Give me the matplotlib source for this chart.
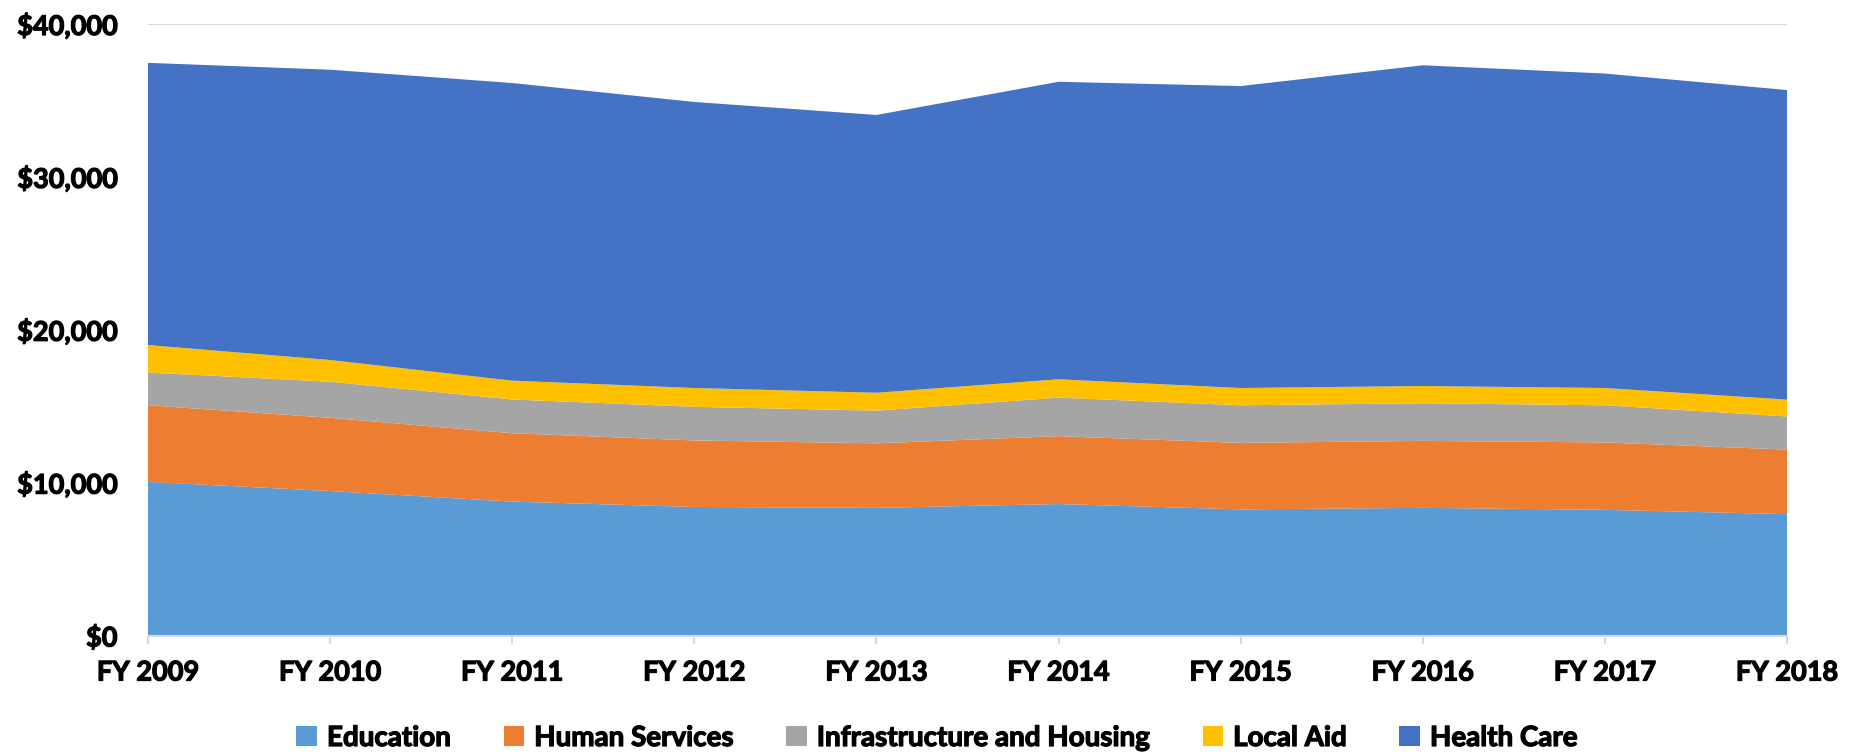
import matplotlib
matplotlib.use("Agg")
import matplotlib.pyplot as plt
import matplotlib.patheffects as pe
from matplotlib.ticker import FuncFormatter

years = ["FY 2009", "FY 2010", "FY 2011", "FY 2012", "FY 2013",
         "FY 2014", "FY 2015", "FY 2016", "FY 2017", "FY 2018"]
education = [10050, 9450, 8760, 8410, 8350, 8600, 8250, 8350, 8220, 7940]
human_services = [5010, 4790, 4470, 4350, 4220, 4440, 4350, 4380, 4410, 4220]
infrastructure = [2140, 2360, 2210, 2200, 2140, 2520, 2460, 2460, 2430, 2170]
local_aid = [1800, 1420, 1230, 1230, 1170, 1200, 1130, 1130, 1130, 1100]
health_care = [18460, 18990, 19470, 18710, 18170, 19460, 19750, 20980, 20570, 20250]

labels = ["Education", "Human Services", "Infrastructure and Housing", "Local Aid", "Health Care"]
colors = ["#5B9BD5", "#ED7D31", "#A5A5A5", "#FFC000", "#4472C4"]

plt.rcParams['font.family'] = ['Lato', 'DejaVu Sans']
FS = 19.5
bolder = [pe.withStroke(linewidth=0.9, foreground='black')]
fig = plt.figure(figsize=(18.58, 7.55), dpi=100)
ax = fig.add_axes([148/1858, 1-635.5/755, (1787-148)/1858, (635.5-24)/755])

x = list(range(len(years)))
ax.stackplot(x, education, human_services, infrastructure, local_aid, health_care,
             labels=labels, colors=colors, linewidth=0, zorder=2)

ax.set_xlim(0, len(years)-1)
ax.set_ylim(0, 40000)
ax.set_yticks([0, 10000, 20000, 30000, 40000])
ax.yaxis.set_major_formatter(FuncFormatter(lambda v, p: "${:,.0f}".format(v)))
ax.set_xticks(x)
ax.set_xticklabels(years)

ax.grid(axis='y', color='#D9D9D9', linewidth=1.5, zorder=0)
ax.set_axisbelow(True)
for s in ['top', 'right', 'left']:
    ax.spines[s].set_visible(False)
ax.spines['bottom'].set_color('#D9D9D9')
ax.spines['bottom'].set_linewidth(1.5)
ax.spines['bottom'].set_zorder(3)

ax.tick_params(axis='y', length=0, pad=22, labelsize=FS)
ax.tick_params(axis='x', length=6, width=1.5, color='#D9D9D9', pad=12, labelsize=FS)
for lab in ax.get_xticklabels() + ax.get_yticklabels():
    lab.set_fontweight('bold')
    lab.set_path_effects(bolder)

leg = fig.legend(loc='center', bbox_to_anchor=(937/1858, 1-738/755), ncol=5, frameon=False,
                 prop={'size': 20, 'weight': 'bold'}, handlelength=0.75, handleheight=0.75,
                 handletextpad=0.35, columnspacing=1.9, borderaxespad=0)
for t in leg.get_texts():
    t.set_path_effects(bolder)

fig.savefig("out.png", dpi=100)
